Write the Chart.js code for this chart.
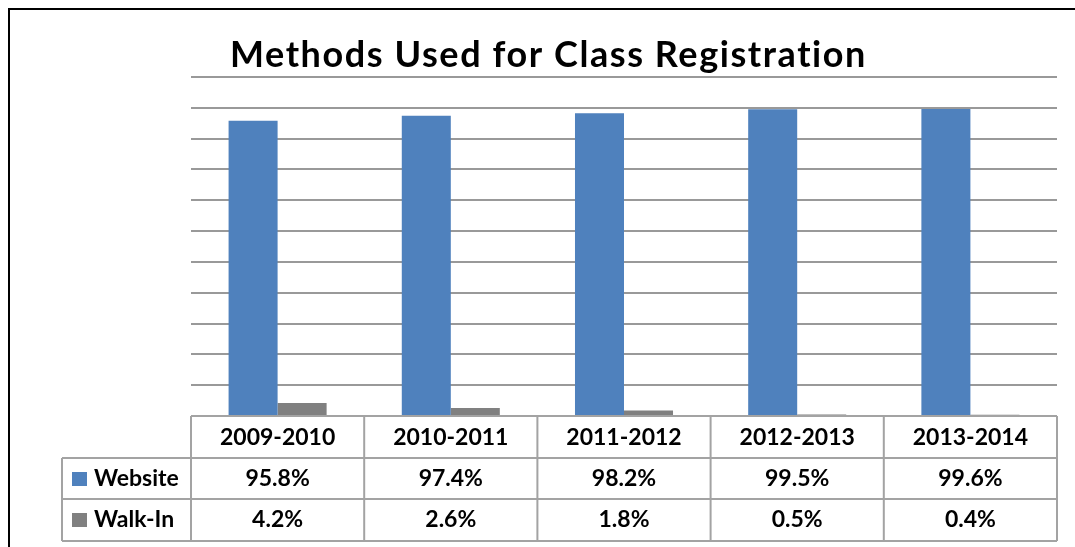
<!DOCTYPE html>
<html>
<head>
<meta charset="utf-8">
<script src="https://cdn.jsdelivr.net/npm/chart.js"></script>
<style>
  html, body {
    margin: 0;
    padding: 0;
    background: #ffffff;
  }
  #chartBox {
    width: 1075px;
    height: 547px;
  }
</style>
</head>
<body>
<div id="chartBox">
  <canvas id="myChart" width="1075" height="547"></canvas>
</div>

<script>
  const chartTitle = 'Methods Used for Class Registration';
  const years = ['2009-2010', '2010-2011', '2011-2012', '2012-2013', '2013-2014'];
  const websiteShare = [95.8, 97.4, 98.2, 99.5, 99.6];
  const walkInShare = [4.2, 2.6, 1.8, 0.5, 0.4];
  const seriesNames = ['Website', 'Walk-In'];
  const seriesColors = ['#4F81BD', '#808080'];

  const tableFont = 'bold 23px Lato, "Open Sans", sans-serif';
  const borderColor = '#a3a3a3';

  // title, outer frame and the data table under the plot
  const tablePlugin = {
    id: 'dataTable',
    beforeDraw(chart) {
      const ctx = chart.ctx;
      ctx.save();
      ctx.fillStyle = '#ffffff';
      ctx.fillRect(0, 0, chart.width, chart.height);
      ctx.restore();
    },
    afterDraw(chart) {
      const ctx = chart.ctx;
      const area = chart.chartArea;
      const xs = chart.scales.x;
      const colW = (area.right - area.left) / years.length;
      const headTop = area.bottom;
      const rowEdges = [headTop, 458, 499, 541];
      const labelLeft = 62;

      ctx.save();

      // outer frame (left and top only visible)
      ctx.strokeStyle = '#000000';
      ctx.lineWidth = 2;
      ctx.beginPath();
      ctx.moveTo(9, chart.height);
      ctx.lineTo(9, 9);
      ctx.lineTo(chart.width, 9);
      ctx.stroke();

      // title, spread out a little to match the wider original face
      ctx.fillStyle = '#000000';
      ctx.font = 'bold 36px Lato, "Open Sans", sans-serif';
      ctx.textAlign = 'left';
      ctx.textBaseline = 'alphabetic';
      const plain = ctx.measureText(chartTitle).width;
      ctx.letterSpacing = Math.max(0, (636 - plain) / (chartTitle.length - 1)) + 'px';
      ctx.fillText(chartTitle, 230, 67);
      ctx.letterSpacing = '0px';

      // table grid
      ctx.strokeStyle = borderColor;
      ctx.lineWidth = 2;
      ctx.beginPath();
      ctx.moveTo(area.left, rowEdges[0]);
      ctx.lineTo(area.right, rowEdges[0]);
      for (let r = 1; r < rowEdges.length; r++) {
        ctx.moveTo(labelLeft, rowEdges[r]);
        ctx.lineTo(area.right, rowEdges[r]);
      }
      for (let c = 0; c <= years.length; c++) {
        const x = area.left + c * colW;
        ctx.moveTo(x, rowEdges[0]);
        ctx.lineTo(x, rowEdges[3]);
      }
      ctx.moveTo(labelLeft, rowEdges[1]);
      ctx.lineTo(labelLeft, rowEdges[3]);
      ctx.stroke();

      // text
      ctx.fillStyle = '#000000';
      ctx.font = tableFont;
      ctx.textAlign = 'center';
      const baselines = [445, 486, 527];
      const rows = [years, websiteShare.map(v => v.toFixed(1) + '%'), walkInShare.map(v => v.toFixed(1) + '%')];
      rows.forEach((row, r) => {
        row.forEach((txt, i) => {
          ctx.fillText(txt, xs.getPixelForValue(i), baselines[r]);
        });
      });

      // row headers with legend keys
      ctx.textAlign = 'left';
      seriesNames.forEach((name, s) => {
        const base = baselines[s + 1];
        ctx.fillStyle = seriesColors[s];
        ctx.fillRect(72, base - 14, 15, 14);
        ctx.fillStyle = '#000000';
        ctx.fillText(name, 94, base);
      });

      ctx.restore();
    },
  };

  const data = {
    labels: years,
    datasets: [
      {
        label: seriesNames[0],
        data: websiteShare,
        backgroundColor: seriesColors[0],
      },
      {
        label: seriesNames[1],
        data: walkInShare,
        backgroundColor: seriesColors[1],
      },
    ],
  };

  const config = {
    type: 'bar',
    data: data,
    options: {
      responsive: false,
      animation: false,
      datasets: {
        bar: {
          categoryPercentage: 0.566,
          barPercentage: 1.0,
        },
      },
      layout: {
        padding: { left: 191, right: 18, top: 77, bottom: 131 },
      },
      plugins: {
        legend: { display: false },
        title: { display: false },
        tooltip: { enabled: false },
      },
      scales: {
        x: {
          grid: { display: false },
          border: { display: false },
          ticks: { display: false },
          afterFit(scale) {
            scale.height = 0;
          },
        },
        y: {
          min: 0,
          max: 110,
          ticks: { display: false, stepSize: 10 },
          border: { display: false },
          grid: {
            color: '#999999',
            lineWidth: 2,
            drawTicks: false,
          },
          afterFit(scale) {
            scale.width = 0;
          },
        },
      },
    },
    plugins: [tablePlugin],
  };

  var myChart = new Chart(document.getElementById('myChart'), config);
</script>
</body>
</html>
